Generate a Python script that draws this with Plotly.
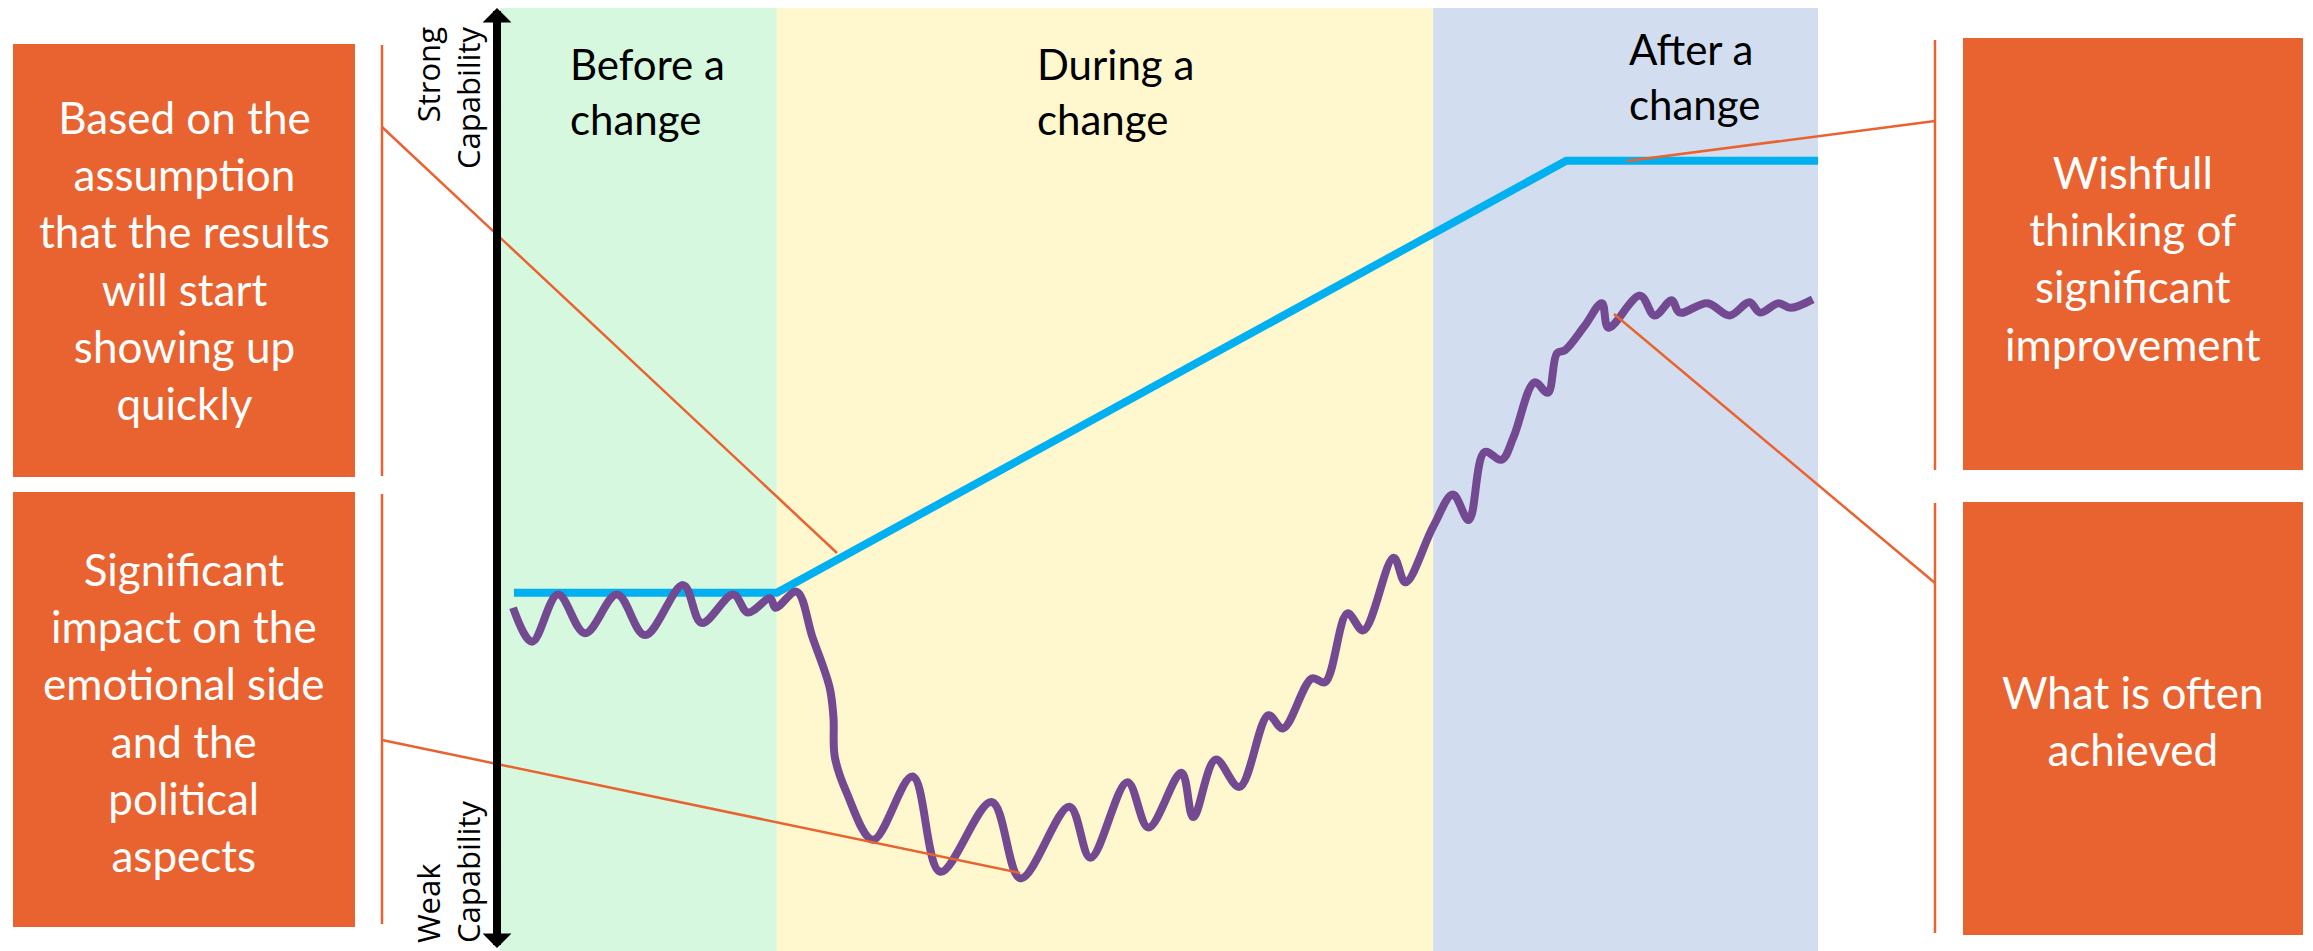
import plotly.graph_objects as go

# ---------------- data ----------------
phase_names = ["Before a<br>change", "During a<br>change", "After a<br>change"]
phase_bounds = [0, 21.0, 70.8, 100]          # time (0-100)
phase_colors = ["#D5F8DE", "#FFF7CE", "#D2DEEF"]

# Wishful thinking (expected capability)
wish_t = [1.06, 21.0, 80.9, 100]
wish_v = [38.0, 38.0, 83.8, 83.8]

# What is often achieved (actual capability)
actual_t = [0.99, 2.43, 4.40, 6.45, 8.88, 11.0, 13.9, 15.3, 17.7, 18.8, 20.5, 20.9,
            22.5, 23.7, 25.0, 25.3, 25.4, 26.3, 28.3, 31.3, 33.4, 37.3, 39.5, 43.2,
            44.8, 47.6, 49.2, 51.7, 52.6, 54.3, 56.1, 58.3, 59.4, 61.6, 62.6, 64.3,
            65.5, 67.8, 68.7, 70.8, 72.3, 73.5, 74.7, 76.0, 76.9, 78.5, 79.5, 80.2,
            80.8, 82.3, 83.6, 84.1, 86.5, 87.6, 88.9, 89.5, 91.6, 93.3, 94.8, 95.6,
            97.0, 97.9, 99.6]
actual_v = [36.4, 32.8, 37.8, 33.7, 37.8, 33.5, 38.8, 34.8, 37.8, 35.9, 37.4, 36.4,
            38.1, 33.3, 28.0, 24.8, 20.6, 16.8, 11.8, 18.5, 8.4, 15.8, 7.7, 15.3,
            9.9, 17.9, 13.1, 18.9, 14.2, 20.3, 17.4, 25.0, 23.6, 28.9, 28.5, 35.8,
            34.0, 41.7, 39.1, 45.0, 48.4, 45.7, 52.9, 52.1, 54.5, 60.3, 59.2, 63.4,
            63.7, 66.3, 68.7, 66.1, 69.5, 67.4, 69.0, 67.7, 68.7, 67.4, 68.8, 67.7,
            68.7, 68.2, 69.1]

left_texts = ["Based on the<br>assumption<br>that the results<br>will start<br>showing up<br>quickly",
              "Significant<br>impact on the<br>emotional side<br>and the<br>political<br>aspects"]
right_texts = ["Wishfull<br>thinking of<br>significant<br>improvement",
               "What is often<br>achieved"]

# ---------------- layout helpers ----------------
W, H = 2313, 951
ML, MR, MT, MB = 500, 495, 8, 0
PW = W - ML - MR
PH = H - MT - MB

def PX(x):
    return (x - ML) / PW

def PY(y):
    return (H - MB - y) / PH

ORANGE = "#E96330"
PURPLE = "#734A91"
BLUE = "#00B0F0"
TXT_FONT = "Lato, 'Liberation Sans Narrow', sans-serif"

fig = go.Figure()

# phase bands
for i in range(3):
    fig.add_shape(type="rect", xref="x", yref="paper",
                  x0=phase_bounds[i], x1=phase_bounds[i + 1], y0=0, y1=1,
                  fillcolor=phase_colors[i], line_width=0, layer="below")

fig.add_trace(go.Scatter(x=wish_t, y=wish_v, mode="lines",
                         line=dict(color=BLUE, width=8),
                         hoverinfo="skip", showlegend=False))
fig.add_trace(go.Scatter(x=actual_t, y=actual_v, mode="lines",
                         line=dict(color=PURPLE, width=8, shape="spline", smoothing=1.0),
                         hoverinfo="skip", showlegend=False))

# phase labels
label_pos = [(568, 92), (1035, 92), (1627, 77)]
for name, (lx, ly) in zip(phase_names, label_pos):
    fig.add_annotation(x=PX(lx), y=PY(ly), xref="paper", yref="paper",
                       text=name, showarrow=False, xanchor="left", yanchor="middle",
                       align="left", font=dict(family=TXT_FONT, size=42, color="black"))

# orange boxes
boxes = [(13, 355, 44, 477), (13, 355, 492, 927), (1963, 2303, 38, 470), (1963, 2303, 502, 935)]
texts = left_texts + right_texts
text_centers = [260, 712, 258, 720]
for (x0, x1, y0, y1), t, cy in zip(boxes, texts, text_centers):
    fig.add_shape(type="rect", xref="paper", yref="paper",
                  x0=PX(x0), x1=PX(x1), y0=PY(y1), y1=PY(y0),
                  fillcolor=ORANGE, line_width=0, layer="above")
    fig.add_annotation(x=PX((x0 + x1) / 2), y=PY(cy), xref="paper", yref="paper",
                       text=t, showarrow=False, xanchor="center", yanchor="middle",
                       align="center", font=dict(family=TXT_FONT, size=44, color="white"))

# bracket lines
brackets = [(382, 45, 476), (382, 494, 924), (1935, 40, 470), (1935, 503, 933)]
for bx, by0, by1 in brackets:
    fig.add_shape(type="line", xref="paper", yref="paper",
                  x0=PX(bx), x1=PX(bx), y0=PY(by0), y1=PY(by1),
                  line=dict(color=ORANGE, width=2.5), layer="above")

# callout lines
callouts = [((382, 127), (837, 553)), ((382, 740), (1020, 873)),
            ((1935, 121), (1627, 161)), ((1935, 583), (1614, 314))]
for (ax0, ay0), (ax1, ay1) in callouts:
    fig.add_shape(type="line", xref="paper", yref="paper",
                  x0=PX(ax0), y0=PY(ay0), x1=PX(ax1), y1=PY(ay1),
                  line=dict(color=ORANGE, width=2.5), layer="above")

# vertical capability axis (double arrow)
for tip, tail in [(8, 480), (948, 476)]:
    fig.add_annotation(x=PX(497), y=PY(tip), xref="paper", yref="paper",
                       ax=0, ay=tail - tip, text="", showarrow=True,
                       arrowhead=1, arrowsize=0.6, arrowwidth=8, arrowcolor="black",
                       standoff=0, startstandoff=0)

# axis labels
fig.add_annotation(x=PX(448), y=PY(25), xref="paper", yref="paper",
                   text="Strong<br>Capability", showarrow=False, textangle=-90,
                   xanchor="center", yanchor="top", align="right",
                   font=dict(family="Open Sans", size=31, color="black"))
fig.add_annotation(x=PX(448), y=PY(945), xref="paper", yref="paper",
                   text="Weak<br>Capability", showarrow=False, textangle=-90,
                   xanchor="center", yanchor="bottom", align="left",
                   font=dict(family="Open Sans", size=31, color="black"))

fig.update_xaxes(range=[0, 100], visible=False, fixedrange=True)
fig.update_yaxes(range=[0, 100], visible=False, fixedrange=True)
fig.update_layout(width=W, height=H,
                  margin=dict(l=ML, r=MR, t=MT, b=MB, pad=0),
                  paper_bgcolor="white", plot_bgcolor="white",
                  showlegend=False)

fig.write_html("out.html")
